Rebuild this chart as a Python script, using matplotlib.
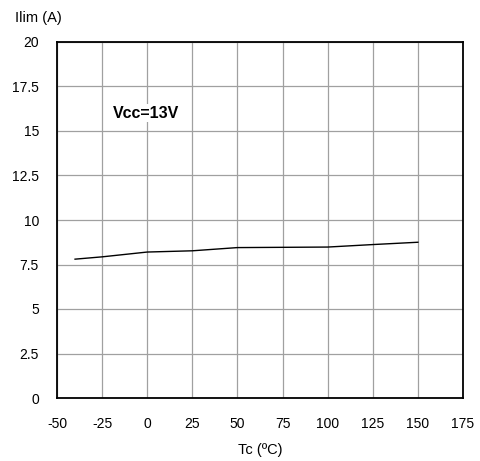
import matplotlib
matplotlib.use("Agg")
import matplotlib.pyplot as plt

plt.rcParams["font.family"] = ["Liberation Sans", "DejaVu Sans"]
plt.rcParams["axes.unicode_minus"] = False

temps = [-40, -25, 0, 25, 50, 100, 125, 150]
ilim = [7.8, 7.93, 8.2, 8.27, 8.45, 8.48, 8.62, 8.75]

x_ticks = [-50, -25, 0, 25, 50, 75, 100, 125, 150, 175]
y_ticks = [0, 2.5, 5, 7.5, 10, 12.5, 15, 17.5, 20]
y_labels = ["0", "2.5", "5", "7.5", "10", "12.5", "15", "17.5", "20"]

fig = plt.figure(figsize=(4.8, 4.61), dpi=100)
ax = fig.add_axes([57 / 480, 1 - 398 / 461, 406 / 480, 356 / 461])

ax.plot(temps, ilim, color="black", linewidth=1)

ax.set_xlim(-50, 175)
ax.set_ylim(0, 20)
ax.set_xticks(x_ticks)
ax.set_yticks(y_ticks)
ax.set_yticklabels(y_labels)
ax.tick_params(axis="both", length=0, labelsize=10)
ax.tick_params(axis="x", pad=14)
ax.tick_params(axis="y", pad=13)
ax.grid(True, color="#a0a0a0", linewidth=0.9)
ax.set_axisbelow(True)
for s in ax.spines.values():
    s.set_linewidth(1.3)

ax.text(-19, 16, "Vcc=13V", fontsize=11.5, fontweight="bold", va="center", ha="left",
        bbox=dict(facecolor="white", edgecolor="none", pad=1))

ax.set_xlabel("Tc (ºC)", fontsize=10.5, labelpad=8)
fig.text(15 / 480, 1 - 18 / 461, "Ilim (A)", fontsize=10.5, ha="left", va="center")

fig.savefig("out.png", dpi=100)
